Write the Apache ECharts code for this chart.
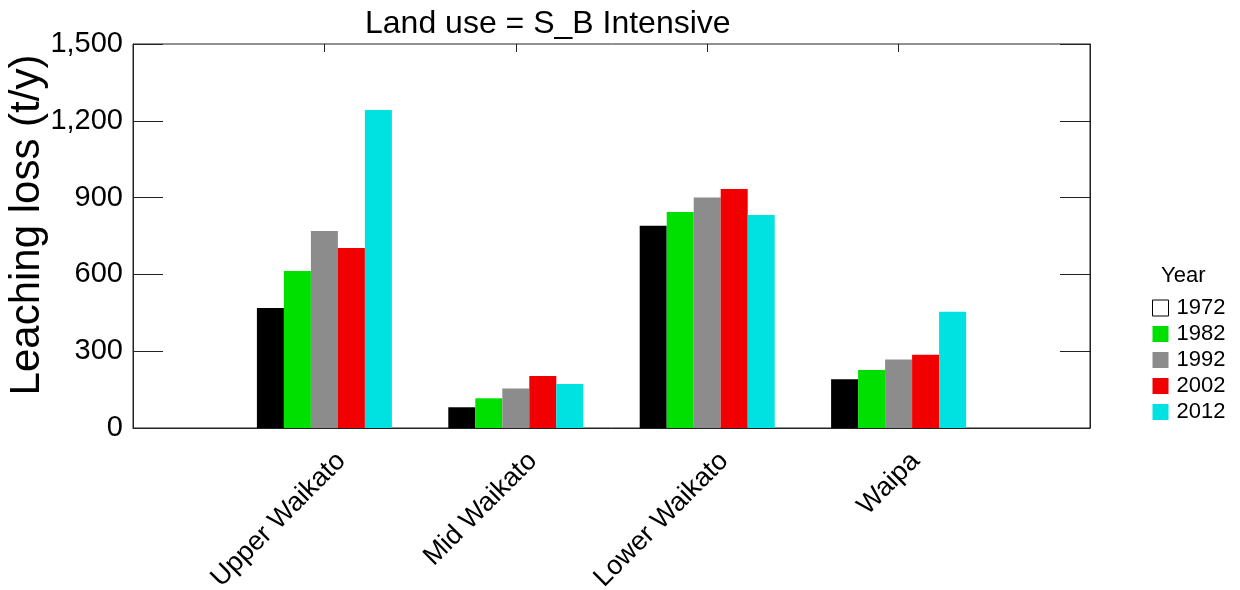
<!DOCTYPE html>
<html>
<head>
<meta charset="utf-8">
<script src="https://cdn.jsdelivr.net/npm/echarts@6/dist/echarts.min.js"></script>
<style>
  html, body { margin: 0; padding: 0; background: #fff; }
  #chart { width: 1240px; height: 590px; }
</style>
</head>
<body>
<div id="chart"></div>
<script>
const categories = ['Upper Waikato', 'Mid Waikato', 'Lower Waikato', 'Waipa'];
const years = ['1972', '1982', '1992', '2002', '2012'];
const v1972 = [469, 81, 790, 190];
const v1982 = [613, 116, 844, 227];
const v1992 = [770, 154, 900, 268];
const v2002 = [703, 203, 934, 286];
const v2012 = [1242, 172, 832, 454];
const yTicks = [0, 300, 600, 900, 1200, 1500];

const colors = ['#000000', '#00e000', '#8c8c8c', '#f00000', '#00e1e1'];
const values = [v1972, v1982, v1992, v2002, v2012];
const font = 'Liberation Sans, Arial, sans-serif';

// padding slots so the groups sit at 1..4 on a 0..5 span
const xData = [''].concat(categories, ['']);

const chart = echarts.init(document.getElementById('chart'));

const series = years.map((y, i) => ({
  name: y,
  type: 'bar',
  data: [null].concat(values[i], [null]),
  barWidth: 27,
  barGap: '0%',
  itemStyle: { color: colors[i] },
  animation: false
}));

chart.setOption({
  title: [
    { text: 'Land use = S_B Intensive', left: 360, top: 3,
      textStyle: { fontFamily: font, fontSize: 32, fontWeight: 'normal', color: '#000' } },
    { text: 'Year', left: 1156, top: 260,
      textStyle: { fontFamily: font, fontSize: 22, fontWeight: 'normal', color: '#000' } }
  ],
  // y axis title, placed by hand
  graphic: [{
    type: 'text',
    x: 27,
    y: 225,
    rotation: Math.PI / 2,
    style: {
      text: 'Leaching loss (t/y)',
      fontFamily: font, fontSize: 42, fill: '#000',
      align: 'center', verticalAlign: 'middle'
    }
  }],
  legend: {
    orient: 'vertical',
    left: 1147,
    top: 292,
    itemWidth: 16,
    itemHeight: 16,
    itemGap: 4,
    icon: 'rect',
    textStyle: { fontFamily: font, fontSize: 22, lineHeight: 22, color: '#000', padding: [0, 0, 0, 3] },
    data: years.map((y, i) => i === 0
      ? { name: y, itemStyle: { color: '#fff', borderColor: '#000', borderWidth: 1 } }
      : { name: y })
  },
  grid: {
    left: 133, right: 150, top: 44, bottom: 162,
    outerBoundsMode: 'none',
    show: true, borderColor: '#222', borderWidth: 1
  },
  xAxis: [{
    type: 'category',
    data: xData,
    boundaryGap: false,
    axisLine: { lineStyle: { color: '#222' } },
    axisTick: { show: false },
    axisLabel: {
      interval: 0, rotate: 45, margin: 12,
      verticalAlign: 'top', lineHeight: 48,
      fontFamily: font, fontSize: 27, color: '#000'
    }
  }, {
    type: 'category',
    position: 'top',
    data: xData,
    boundaryGap: false,
    axisLine: { show: false, onZero: false },
    axisTick: { show: true, inside: true, length: 8, lineStyle: { color: '#222' },
      interval: (idx) => idx > 0 && idx < xData.length - 1 },
    axisLabel: { show: false }
  }],
  yAxis: [{
    type: 'value',
    min: yTicks[0],
    max: yTicks[yTicks.length - 1],
    interval: yTicks[1] - yTicks[0],
    axisLine: { show: true, lineStyle: { color: '#222' } },
    axisTick: { show: true, inside: true, length: 30, lineStyle: { color: '#222' } },
    axisLabel: { fontFamily: font, fontSize: 29, color: '#000', margin: 10 },
    splitLine: { show: false }
  }, {
    type: 'value',
    position: 'right',
    min: yTicks[0],
    max: yTicks[yTicks.length - 1],
    interval: yTicks[1] - yTicks[0],
    axisLine: { show: true, lineStyle: { color: '#222' } },
    axisTick: { show: true, inside: true, length: 30, lineStyle: { color: '#222' } },
    axisLabel: { show: false },
    splitLine: { show: false }
  }],
  series: series
});
</script>
</body>
</html>
